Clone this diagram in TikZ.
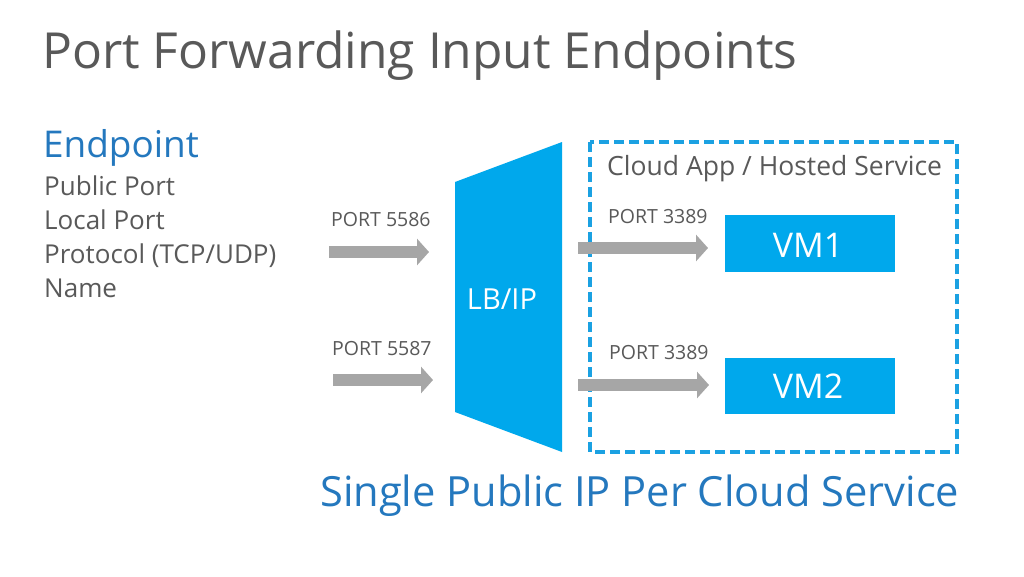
\documentclass[tikz,border=0pt]{standalone}
\usepackage{fontspec}
\setmainfont{Open Sans}
\usetikzlibrary{arrows.meta}
\definecolor{azure}{HTML}{00A8EC}
\definecolor{txtgray}{HTML}{595959}
\definecolor{titleblue}{HTML}{2478BE}
\definecolor{arrowgray}{HTML}{A6A6A6}
\definecolor{dashblue}{HTML}{1BA1E2}
\tikzset{
  txt/.style={anchor=base west, inner sep=0pt, text=txtgray},
  portlbl/.style={txt, font=\fontsize{19.5}{23}\selectfont},
  itemlbl/.style={txt, font=\fontsize{26}{31}\selectfont},
  vmbox/.style={fill=azure, draw=none},
  vmtxt/.style={anchor=base, inner sep=0pt, text=white, font=\fontsize{34}{40}\selectfont},
  fatarrow/.style={draw=arrowgray, line width=12pt, line cap=butt,
    -{Triangle[width=26pt,length=12pt]}},
}
\begin{document}
\begin{tikzpicture}[x=1pt,y=-1pt]
\useasboundingbox[fill=white] (0,0) rectangle (1024,576);
% title
\node[txt, font=\fontsize{49.7}{60}\selectfont] (title) at (42,68) {Port Forwarding Input Endpoints};
% endpoint list
\node[txt, text=titleblue, font=\fontsize{36.9}{44}\selectfont] (ep) at (43,157) {Endpoint};
\node[itemlbl] (i1) at (44,195) {Public Port};
\node[itemlbl] (i2) at (44,229) {Local Port};
\node[itemlbl] (i3) at (44,263) {Protocol (TCP/UDP)};
\node[itemlbl] (i4) at (44,297) {Name};
% LB/IP trapezoid
\coordinate (lbtl) at (455,182);
\coordinate (lbtr) at (562,142);
\coordinate (lbbr) at (562,452);
\coordinate (lbbl) at (455,412);
\fill[azure] (lbtl) -- (lbtr) -- (lbbr) -- (lbbl) -- cycle;
\node[vmtxt, font=\fontsize{29}{35}\selectfont] (lb) at (502,309) {LB/IP};
% dashed cloud box
\draw[dashblue, line width=3.5pt, dash pattern=on 10pt off 5pt] (590,142) rectangle (957,452);
\node[txt, font=\fontsize{26.5}{32}\selectfont] (cloud) at (607,175) {Cloud App / Hosted Service};
% VMs
\path[vmbox] (725,215) rectangle (895,272);
\node[vmtxt] (vm1) at (808,257) {VM1};
\path[vmbox] (725,358) rectangle (895,414);
\node[vmtxt] (vm2) at (808,398) {VM2};
% port labels
\node[portlbl] (p1) at (331,226) {PORT 5586};
\node[portlbl] (p2) at (332,355) {PORT 5587};
\node[portlbl] (p3) at (608,223) {PORT 3389};
\node[portlbl] (p4) at (609,359) {PORT 3389};
% arrows
\coordinate (a1s) at (329,252); \coordinate (a1e) at (429,252);
\coordinate (a2s) at (333,380); \coordinate (a2e) at (433,380);
\coordinate (a3s) at (578,248); \coordinate (a3e) at (708,248);
\coordinate (a4s) at (578,385); \coordinate (a4e) at (709,385);
\draw[fatarrow] (a1s) -- (a1e);
\draw[fatarrow] (a2s) -- (a2e);
\draw[fatarrow] (a3s) -- (a3e);
\draw[fatarrow] (a4s) -- (a4e);
% bottom caption
\node[txt, text=titleblue, font=\fontsize{41.6}{50}\selectfont] (cap) at (320,506) {Single Public IP Per Cloud Service};
\end{tikzpicture}
\end{document}
